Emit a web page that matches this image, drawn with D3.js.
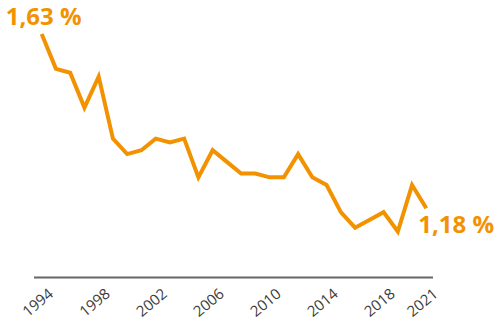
<!DOCTYPE html>
<html>
<head>
<meta charset="utf-8">
<script src="https://cdn.jsdelivr.net/npm/d3@7"></script>
<style>
  html, body { margin: 0; padding: 0; background: #fff; }
  svg { display: block; }
</style>
</head>
<body>
<svg id="chart" width="500" height="322"></svg>
<script>
const years = [1994,1995,1996,1997,1998,1999,2000,2001,2002,2003,2004,2005,2006,2007,
               2008,2009,2010,2011,2012,2013,2014,2015,2016,2017,2018,2019,2020,2021];
const values = [1.63,1.54,1.53,1.44,1.52,1.36,1.32,1.33,1.36,1.35,1.36,1.26,1.33,1.30,
                1.27,1.27,1.26,1.26,1.32,1.26,1.24,1.17,1.13,1.15,1.17,1.12,1.24,1.18];
const tickYears = [1994,1998,2002,2006,2010,2014,2018,2021];
const firstLabel = "1,63 %";
const lastLabel = "1,18 %";

const orange = "#f39200";
const svg = d3.select("#chart");

const x = d3.scaleLinear().domain([1994, 2021]).range([41.7, 426.3]);
const y = d3.scaleLinear().domain([1.1, 1.7]).range([239.3, 6.9]);
const axisY = 277.5;

// axis baseline
svg.append("line")
  .attr("x1", x(1994) - 7.7).attr("x2", x(2021) + 6.7)
  .attr("y1", axisY).attr("y2", axisY)
  .attr("stroke", "#666").attr("stroke-width", 2);

const axis = d3.axisBottom(x).tickValues(tickYears).tickFormat(d3.format("d")).tickSize(0);
const gAxis = svg.append("g").attr("transform", `translate(0,${axisY})`).call(axis);
gAxis.select(".domain").remove();
gAxis.attr("font-size", null).attr("font-family", null);
gAxis.selectAll(".tick text")
  .style("font-family", "'Open Sans', sans-serif")
  .style("font-size", "15px")
  .attr("fill", "#3c3c3c")
  .attr("text-anchor", "end")
  .attr("dy", null)
  .attr("y", null)
  .attr("transform", "translate(12,18) rotate(-40)");

const data = years.map((yr, i) => ({ yr, v: values[i] }));
const line = d3.line().x(d => x(d.yr)).y(d => y(d.v)).curve(d3.curveLinear);

svg.append("path")
  .datum(data)
  .attr("d", line)
  .attr("fill", "none")
  .attr("stroke", orange)
  .attr("stroke-width", 4)
  .attr("stroke-linejoin", "miter")
  .attr("stroke-linecap", "butt");

const first = data[0], last = data[data.length - 1];
svg.append("text")
  .attr("x", x(first.yr) + 2).attr("y", y(first.v) - 9)
  .attr("text-anchor", "middle")
  .attr("font-family", "'Open Sans', sans-serif")
  .attr("font-weight", "bold")
  .attr("font-size", 24)
  .attr("fill", orange)
  .text(firstLabel);

svg.append("text")
  .attr("x", x(last.yr) - 8).attr("y", y(last.v) + 24.4)
  .attr("text-anchor", "start")
  .attr("font-family", "'Open Sans', sans-serif")
  .attr("font-weight", "bold")
  .attr("font-size", 24)
  .attr("fill", orange)
  .text(lastLabel);
</script>
</body>
</html>
